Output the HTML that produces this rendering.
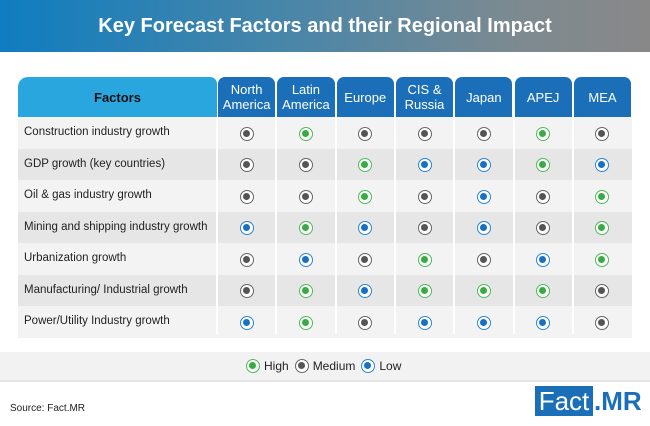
<!DOCTYPE html><html><head><style>
*{margin:0;padding:0;box-sizing:border-box}
body{width:650px;height:426px;position:relative;background:#fff;font-family:"Liberation Sans",sans-serif;overflow:hidden}
.t{position:absolute;left:0;top:0;width:650px;height:52px;background:linear-gradient(90deg,#0f7dc0 0%,#4a86a8 45%,#7d8a90 80%,#888 100%);color:#fff;font-weight:bold;font-size:20px;text-align:center;line-height:52px}
.a{position:absolute}
.h{position:absolute;top:77px;height:40px;background:#1b6fb8;color:#fff;font-size:13px;text-align:center;display:flex;align-items:center;justify-content:center;line-height:15px;border-radius:7px 7px 0 0}
.h:after{content:"";position:absolute;bottom:-6px;left:50%;margin-left:-6px;border-left:6px solid transparent;border-right:6px solid transparent;border-top:6px solid #1b6fb8}
.h.f:after{display:none}
.r{position:absolute;left:18px;width:614px;height:31.5px}
.l{position:absolute;left:24px;font-size:11.5px;color:#222;line-height:31.5px}
.d{position:absolute;width:14px;height:14px;border-radius:50%;border:1.5px solid;background:#fff}
.d i{position:absolute;left:2px;top:2px;width:7px;height:7px;border-radius:50%}
.H{border-color:#4cbb58}.H i{background:#3aaa45}
.M{border-color:#666}.M i{background:#555}
.L{border-color:#2a86d2}.L i{background:#1a70c0}
.v{position:absolute;top:117px;height:217px;width:2px;background:#fff}
</style></head><body>
<div class="t">Key Forecast Factors and their Regional Impact</div>
<div class="h f" style="left:18px;width:199px;background:#2aa6df;color:#111;font-weight:bold;border-radius:10px 7px 0 0">Factors</div>
<div id="g"></div>
<div class="a" style="left:0;top:352px;width:650px;height:30px;background:#f2f2f2;border-bottom:2px solid #e4e4e4"></div>
<div class="a" style="left:246px;top:359px;font-size:12px;color:#222;display:flex;align-items:center;gap:4px">
<span class="d H" style="position:relative"><i></i></span>High
<span class="d M" style="position:relative;margin-left:2px"><i></i></span>Medium
<span class="d L" style="position:relative;margin-left:2px"><i></i></span>Low</div>
<div class="a" style="left:10px;top:403px;font-size:10px;color:#222">Source: Fact.MR</div>
<div class="a" style="left:535px;top:386px;width:58px;height:30px;background:#1b6fb8;color:#fff;font-size:26px;line-height:30px;text-align:center">Fact</div>
<div class="a" style="left:594px;top:386px;font-size:26px;line-height:30px;color:#1b6fb8;font-weight:bold">.MR</div>
<script>
var regs=["North<br>America","Latin<br>America","Europe","CIS &amp;<br>Russia","Japan","APEJ","MEA"];
var fac=["Construction industry growth","GDP growth (key countries)","Oil &amp; gas industry growth","Mining and shipping industry growth","Urbanization growth","Manufacturing/ Industrial growth","Power/Utility Industry growth"];
var dat=["MHMMMHM","MMHLLHL","MMHMLMH","LHLMLMH","MLMHMLH","MHLHHHM","LHMLLLM"];
var h="",cw=59.3,x0=217;
for(var c=0;c<7;c++)h+='<div class="h" style="left:'+(x0+c*cw+1)+'px;width:'+(cw-2)+'px">'+regs[c]+'</div>';
for(var r=0;r<7;r++){var y=117+r*31.5;
h+='<div class="r" style="top:'+y+'px;background:'+(r%2?'#e6e6e7':'#f3f3f3')+'"></div>';
h+='<div class="l" style="top:'+y+'px">'+fac[r]+'</div>';
for(c=0;c<7;c++){var cx=x0+c*cw+cw/2;h+='<div class="d '+dat[r][c]+'" style="left:'+(cx-7)+'px;top:'+(y+15.75-7+1)+'px"><i></i></div>';}}
for(c=0;c<7;c++)h+='<div class="v" style="left:'+(x0+c*cw-1)+'px"></div>';
document.getElementById("g").innerHTML=h;
</script>
</body></html>
